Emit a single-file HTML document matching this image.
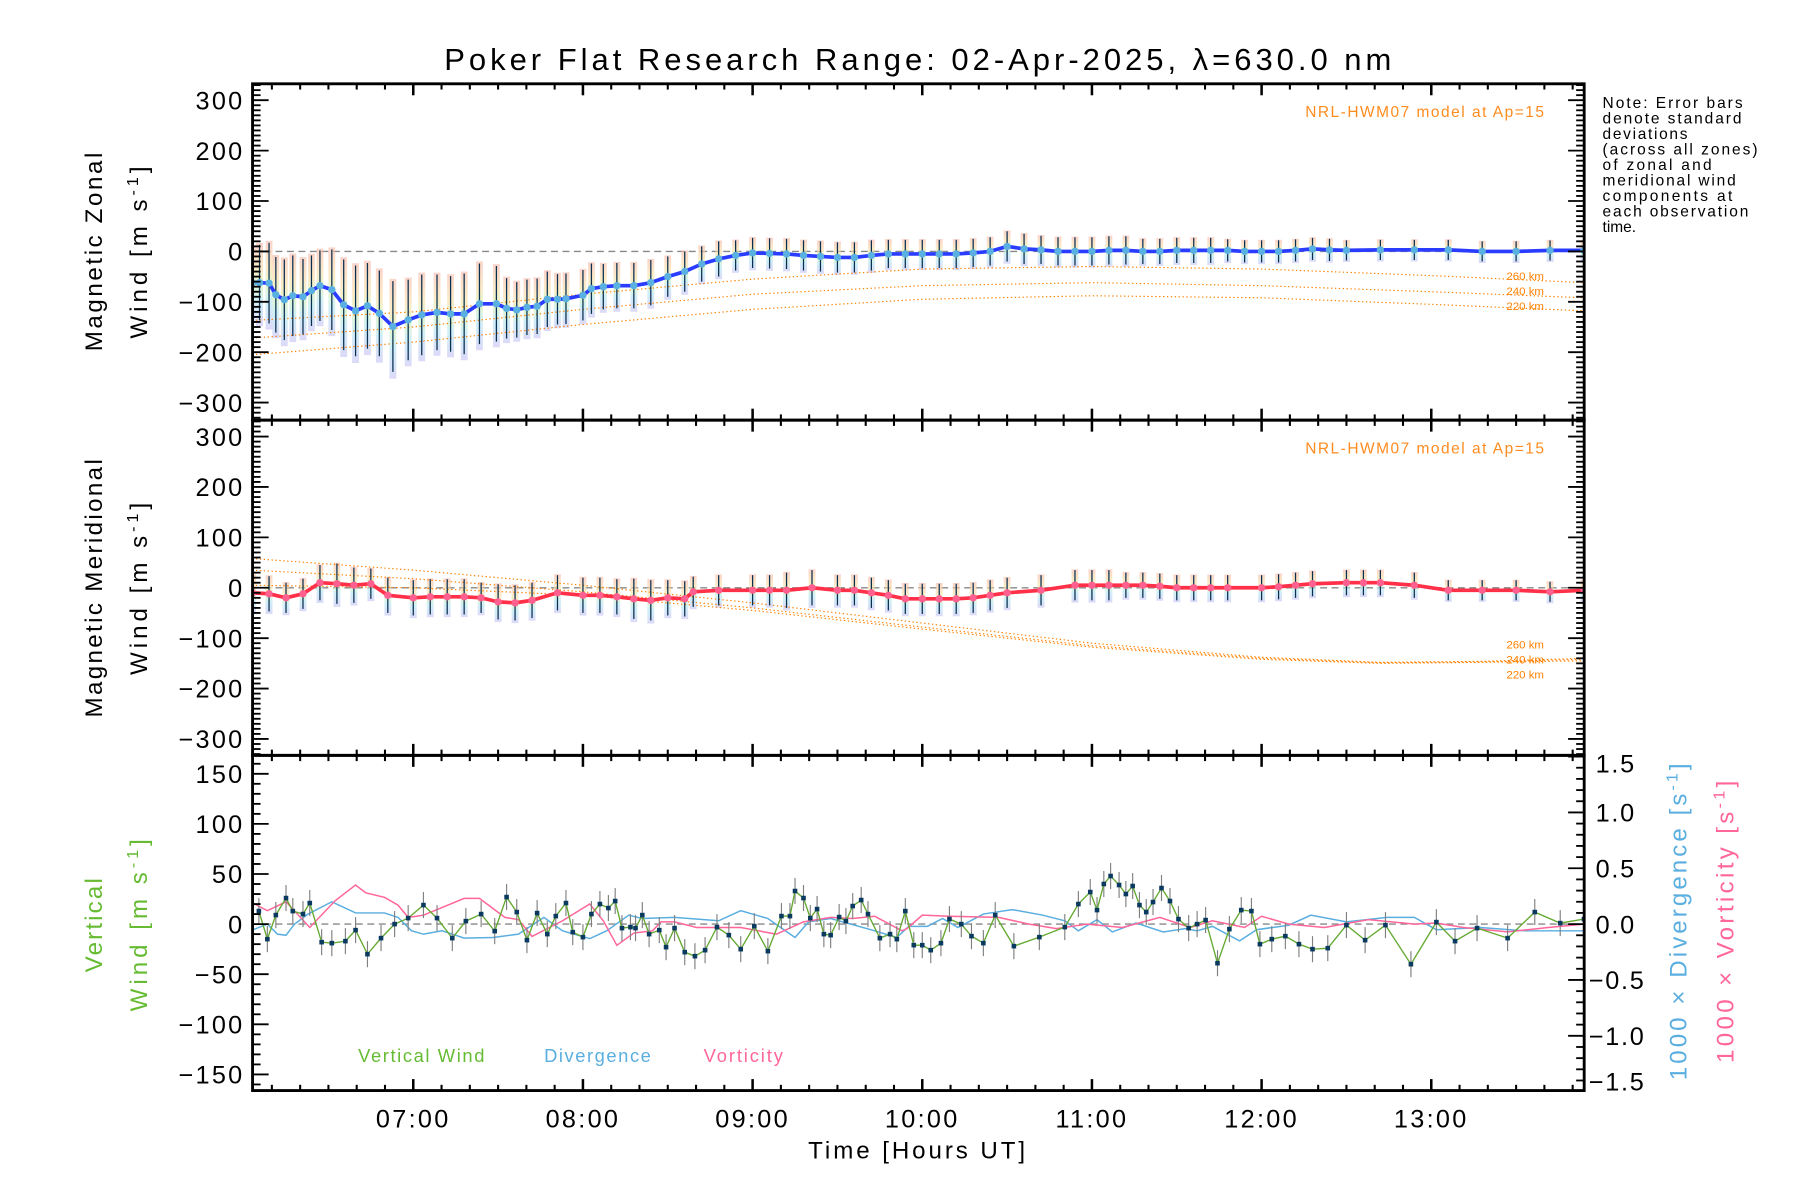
<!DOCTYPE html>
<html><head><meta charset="utf-8"><style>
html,body{margin:0;padding:0;background:#fff}
svg{display:block}
text{font-family:"Liberation Sans",sans-serif}
</style></head><body>
<svg id="chart" width="1800" height="1200" viewBox="0 0 1568 1045.33" preserveAspectRatio="none" xmlns="http://www.w3.org/2000/svg">
<defs>
<linearGradient id="strip" x1="0" y1="0" x2="0" y2="1">
<stop offset="0" stop-color="#f8b8a8"/><stop offset="0.3" stop-color="#f8dca0"/><stop offset="0.5" stop-color="#d0f0b0"/><stop offset="0.7" stop-color="#b0e4f4"/><stop offset="1" stop-color="#c4c0f4"/>
</linearGradient>
<clipPath id="c1"><rect x="220" y="73" width="1160" height="293"/></clipPath>
<clipPath id="c2"><rect x="220" y="366" width="1160" height="292"/></clipPath>
<clipPath id="c3"><rect x="220" y="658" width="1160" height="292"/></clipPath>
</defs>
<text x="387" y="61" font-size="27" textLength="825" lengthAdjust="spacing">Poker Flat Research Range: 02-Apr-2025, λ=630.0 nm</text>
<g id="g1" clip-path="url(#c1)"></g>
<g id="g2" clip-path="url(#c2)"></g>
<g id="g3" clip-path="url(#c3)"></g>
<g id="axes"></g>
<g font-size="13.5">
<text x="1396" y="94" textLength="122" lengthAdjust="spacing">Note: Error bars</text><text x="1396" y="107.5" textLength="121" lengthAdjust="spacing">denote standard</text><text x="1396" y="121" textLength="74" lengthAdjust="spacing">deviations</text><text x="1396" y="134.5" textLength="135" lengthAdjust="spacing">(across all zones)</text><text x="1396" y="148" textLength="95" lengthAdjust="spacing">of zonal and</text><text x="1396" y="161.5" textLength="116" lengthAdjust="spacing">meridional wind</text><text x="1396" y="175" textLength="113" lengthAdjust="spacing">components at</text><text x="1396" y="188.5" textLength="127" lengthAdjust="spacing">each observation</text><text x="1396" y="202">time.</text>
</g>
<text x="1137" y="102" font-size="13.5" fill="#ff8c20" textLength="208" lengthAdjust="spacing">NRL-HWM07 model at Ap=15</text>
<text x="1137" y="395" font-size="13.5" fill="#ff8c20" textLength="208" lengthAdjust="spacing">NRL-HWM07 model at Ap=15</text>
<g font-size="10" fill="#ff8000" text-anchor="end">
<text x="1345" y="244">260 km</text><text x="1345" y="257">240 km</text><text x="1345" y="270">220 km</text>
<text x="1345" y="565">260 km</text><text x="1345" y="578">240 km</text><text x="1345" y="591">220 km</text>
</g>
<g font-size="21">
<text transform="translate(89,306) rotate(-90)" textLength="173" lengthAdjust="spacing">Magnetic Zonal</text>
<text transform="translate(128,295) rotate(-90)" textLength="150" lengthAdjust="spacing">Wind [m s<tspan baseline-shift="super" font-size="14">-1</tspan>]</text>
<text transform="translate(89,625) rotate(-90)" textLength="225" lengthAdjust="spacing">Magnetic Meridional</text>
<text transform="translate(128,588) rotate(-90)" textLength="150" lengthAdjust="spacing">Wind [m s<tspan baseline-shift="super" font-size="14">-1</tspan>]</text>
<text fill="#66bb33" transform="translate(89,847) rotate(-90)" textLength="82" lengthAdjust="spacing">Vertical</text>
<text fill="#66bb33" transform="translate(128,881) rotate(-90)" textLength="150" lengthAdjust="spacing">Wind [m s<tspan baseline-shift="super" font-size="14">-1</tspan>]</text>
<text fill="#5aaee0" transform="translate(1469,941) rotate(-90)" textLength="276" lengthAdjust="spacing">1000 × Divergence [s<tspan baseline-shift="super" font-size="14">-1</tspan>]</text>
<text fill="#ff6699" transform="translate(1510,926) rotate(-90)" textLength="246" lengthAdjust="spacing">1000 × Vorticity [s<tspan baseline-shift="super" font-size="14">-1</tspan>]</text>
<text x="704" y="1009" textLength="189" lengthAdjust="spacing">Time [Hours UT]</text>
</g>
<g font-size="16">
<text x="312" y="925" fill="#66bb33" textLength="110" lengthAdjust="spacing">Vertical Wind</text>
<text x="474" y="925" fill="#5aaee0" textLength="93" lengthAdjust="spacing">Divergence</text>
<text x="613" y="925" fill="#ff6699" textLength="69" lengthAdjust="spacing">Vorticity</text>
</g>
</svg>
<script>
const hourTicks=[7,8,9,10,11,12,13];
const hourLabels=["07:00","08:00","09:00","10:00","11:00","12:00","13:00"];
const windTicks=[300,200,100,0,-100,-200,-300];
const vertTicks=[150,100,50,0,-50,-100,-150];
const rightTicks=[1.5,1.0,0.5,0.0,-0.5,-1.0,-1.5];
const zonalT=[6.053,6.094,6.15,6.19,6.24,6.29,6.35,6.40,6.45,6.52,6.59,6.66,6.73,6.80,6.88,6.97,7.05,7.14,7.22,7.30,7.39,7.49,7.55,7.61,7.67,7.73,7.79,7.85,7.90,8.0,8.05,8.12,8.2,8.3,8.4,8.5,8.6,8.7,8.8,8.9,9.0,9.1,9.2,9.3,9.4,9.5,9.6,9.7,9.8,9.9,10.0,10.1,10.2,10.3,10.4,10.5,10.6,10.7,10.8,10.9,11.0,11.1,11.2,11.3,11.4,11.5,11.6,11.7,11.8,11.9,12.0,12.1,12.2,12.3,12.4,12.5,12.7,12.9,13.1,13.3,13.5,13.7,13.9];
const zonalV=[-62,-62,-63,-86,-96,-88,-90,-78,-68,-76,-106,-118,-108,-123,-149,-136,-126,-121,-124,-124,-104,-104,-113,-116,-111,-109,-95,-95,-94,-87,-74,-70,-68,-68,-62,-50,-40,-25,-15,-8,-3,-4,-5,-8,-10,-12,-12,-8,-5,-5,-5,-5,-5,-3,0,10,5,3,0,0,0,2,2,0,0,2,2,2,2,0,0,0,2,5,3,2,3,3,3,0,0,2,2];
const zonalSd=[70,75,80,75,80,80,75,70,70,80,90,90,85,85,90,80,80,75,75,80,80,75,60,55,55,55,55,50,50,50,50,45,45,45,45,40,40,35,35,30,30,30,30,30,30,30,30,30,28,28,28,28,28,28,28,30,30,28,28,28,28,28,28,25,25,25,25,25,22,22,22,22,22,22,22,20,20,20,20,20,20,20,20];
const meridT=[6.053,6.15,6.25,6.35,6.45,6.55,6.65,6.75,6.85,7.0,7.1,7.2,7.3,7.4,7.5,7.6,7.7,7.85,8.0,8.1,8.2,8.3,8.4,8.5,8.6,8.65,8.8,9.0,9.1,9.2,9.35,9.5,9.6,9.7,9.8,9.9,10.0,10.1,10.2,10.3,10.4,10.5,10.7,10.9,11.0,11.1,11.2,11.3,11.4,11.5,11.6,11.7,11.8,12.0,12.1,12.2,12.3,12.5,12.6,12.7,12.9,13.1,13.3,13.5,13.7,13.9];
const meridV=[-10,-12,-20,-12,10,8,5,8,-15,-20,-18,-18,-18,-20,-28,-30,-25,-10,-15,-15,-18,-22,-25,-20,-22,-8,-5,-5,-5,-5,0,-5,-5,-10,-15,-22,-22,-22,-22,-20,-15,-10,-5,5,5,5,5,5,3,0,0,0,0,0,2,5,8,10,10,10,5,-5,-5,-5,-8,-5];
const meridSd=[35,35,30,30,35,40,35,30,35,35,35,35,35,30,35,35,35,35,35,35,35,40,40,35,35,30,30,30,30,35,35,30,30,30,30,30,30,30,30,30,30,30,30,30,30,30,25,25,25,25,25,25,25,25,25,25,25,25,25,25,25,20,20,20,20,20];
const modelT1=[6.05,7,8,9,10,11,12,13,13.9];
const zonal260=[-137,-120,-85,-55,-35,-30,-35,-48,-62];
const zonal240=[-172,-150,-115,-85,-68,-62,-68,-80,-92];
const zonal220=[-205,-180,-145,-115,-95,-88,-92,-105,-118];
const modelT2=[6.05,7,8,9,10,11,12,12.7,13.3,13.9];
const merid260=[58,35,5,-30,-70,-110,-138,-148,-146,-140];
const merid240=[35,18,-8,-40,-78,-115,-140,-149,-147,-142];
const merid220=[5,0,-15,-45,-82,-118,-142,-150,-148,-145];
const vertT=[6.09,6.14,6.19,6.25,6.29,6.35,6.39,6.46,6.52,6.60,6.66,6.73,6.81,6.89,6.97,7.06,7.14,7.23,7.31,7.40,7.48,7.55,7.61,7.67,7.73,7.79,7.84,7.90,7.94,8.00,8.05,8.10,8.15,8.19,8.23,8.28,8.31,8.35,8.39,8.45,8.49,8.54,8.60,8.66,8.72,8.79,8.86,8.93,9.01,9.09,9.17,9.22,9.25,9.30,9.34,9.38,9.42,9.46,9.51,9.55,9.59,9.64,9.68,9.75,9.81,9.85,9.90,9.95,10.0,10.05,10.11,10.16,10.23,10.29,10.36,10.43,10.54,10.69,10.84,10.92,10.99,11.03,11.07,11.11,11.16,11.20,11.24,11.28,11.32,11.36,11.41,11.46,11.51,11.57,11.62,11.67,11.74,11.81,11.88,11.94,11.99,12.06,12.14,12.22,12.30,12.39,12.50,12.61,12.73,12.88,13.03,13.14,13.27,13.45,13.61,13.76,13.90];
const vertV=[13,-15,9,26,13,10,21,-18,-19,-17,-6,-30,-14,0,6,19,6,-14,3,10,-7,27,12,-16,11,-10,8,21,-8,-13,10,20,16,23,-4,-3,-4,9,-10,-6,-23,-4,-28,-32,-26,-3,-11,-25,-2,-27,8,8,33,26,6,15,-10,-11,7,3,18,24,10,-14,-10,-15,13,-21,-21,-26,-19,5,0,-12,-19,9,-22,-13,-3,20,32,14,40,48,39,30,38,19,12,22,36,23,5,-4,0,4,-39,-5,14,13,-20,-15,-12,-20,-25,-24,-1,-16,-1,-40,2,-17,-4,-14,12,1,5];
const vertErr=13;
const divT=[6.04,6.14,6.20,6.25,6.30,6.38,6.52,6.66,6.83,6.91,6.99,7.06,7.17,7.30,7.47,7.62,7.77,7.88,8.04,8.14,8.27,8.35,8.54,8.80,8.93,9.09,9.25,9.33,9.46,9.72,9.85,9.92,10.03,10.12,10.21,10.36,10.53,10.71,10.84,10.92,11.03,11.12,11.26,11.42,11.55,11.62,11.71,11.87,11.97,12.16,12.29,12.50,12.74,12.90,13.03,13.29,13.55,13.90];
const divV=[-0.06,0,-0.09,-0.1,0,0.09,0.2,0.1,0.1,0.06,-0.06,-0.09,-0.06,-0.125,-0.12,-0.09,0.06,-0.06,-0.13,-0.06,0.08,0.05,0.06,0.03,0.12,0.05,-0.12,0.02,0.05,-0.06,-0.12,-0.02,-0.02,0.05,-0.03,0.09,0.13,0.08,0.03,-0.06,0.04,-0.07,0.01,-0.07,-0.04,-0.06,-0.02,-0.15,-0.05,-0.01,0.08,0.02,0.06,0.06,-0.05,-0.03,-0.06,-0.06];
const vortT=[6.04,6.14,6.25,6.39,6.54,6.66,6.72,6.83,6.91,6.97,7.06,7.30,7.39,7.54,7.62,7.70,7.88,8.04,8.12,8.20,8.30,8.41,8.46,8.54,8.67,8.93,9.14,9.30,9.46,9.59,9.72,9.88,9.91,10.0,10.16,10.45,10.63,10.79,10.97,11.18,11.40,11.58,11.71,11.90,12.0,12.16,12.37,12.63,12.90,13.03,13.19,13.45,13.69,13.90];
const vortV=[0.2,0.12,0.2,-0.03,0.21,0.35,0.28,0.24,0.17,0.06,0.08,0.23,0.23,0.06,0.04,-0.11,0.03,0.18,0.03,-0.19,-0.08,-0.06,0.02,0.02,-0.03,-0.03,-0.09,0.02,0.06,0.05,0.07,-0.06,-0.04,0.08,0.07,0.06,0,-0.04,0,-0.03,0.06,-0.03,0.03,-0.03,0.07,0,-0.03,0.04,0,0.01,-0.03,-0.07,-0.03,0];

const NS="http://www.w3.org/2000/svg";
const X=h=>360+(h-7)*147.8;
const Y1=v=>219-v*0.439;
const Y2=v=>512-v*0.439;
const Y3=v=>805-v*0.873;
const YR=v=>805-v*97.3;
function mk(tag,attrs,parent){const e=document.createElementNS(NS,tag);for(const k in attrs)e.setAttribute(k,attrs[k]);parent.appendChild(e);return e;}
const g1=document.getElementById('g1'),g2=document.getElementById('g2'),g3=document.getElementById('g3'),ax=document.getElementById('axes');
function poly(T,V,Y,attrs,parent,name){const p=mk('polyline',Object.assign({points:T.map((t,i)=>X(t).toFixed(2)+','+Y(V[i]).toFixed(2)).join(' '),fill:'none'},attrs),parent);

return p;}
function zero(Y,parent,name){const l=mk('line',{x1:220,x2:1380,y1:Y(0),y2:Y(0),stroke:'#888','stroke-width':1.2,'stroke-dasharray':'6 4'},parent);

}
function windPanel(g,T,V,S,Y,col,mcol,mT,m1,m2,m3,pre){
  zero(Y,g,pre+'-zero-line');
  T.forEach((t,i)=>{const x=X(t);
    const r=mk('rect',{x:x-3,y:Y(V[i]+S[i]*1.05),width:6,height:Y(V[i]-S[i]*1.15)-Y(V[i]+S[i]*1.05),fill:'url(#strip)',opacity:0.6},g);
    
    });
  [m1,m2,m3].forEach((m,k)=>poly(mT,m,Y,{stroke:'#ff8000','stroke-width':1,'stroke-dasharray':'1.2 2.2'},g,pre+'-model-'+['260','240','220'][k]));
  T.forEach((t,i)=>{const x=X(t);
    const l=mk('line',{x1:x,x2:x,y1:Y(V[i]+S[i]),y2:Y(V[i]-S[i]),stroke:'#0a3050','stroke-width':1.1},g);
    
    });
  poly(T,V,Y,{stroke:col,'stroke-width':3.2,'stroke-linejoin':'round'},g,pre+'-mean-line');
  T.forEach((t,i)=>{const c=mk('circle',{cx:X(t),cy:Y(V[i]),r:3.2,fill:mcol},g);
    
    });
}
windPanel(g1,zonalT,zonalV,zonalSd,Y1,'#2a3cff','#5ab0e0',modelT1,zonal260,zonal240,zonal220,'zonal');
windPanel(g2,meridT,meridV,meridSd,Y2,'#ff3048','#ff6090',modelT2,merid260,merid240,merid220,'merid');
zero(Y3,g3,'vertical-zero-line');
poly(divT,divV,YR,{stroke:'#5aaee0','stroke-width':1.3},g3,'divergence-line');
poly(vortT,vortV,YR,{stroke:'#ff6699','stroke-width':1.3},g3,'vorticity-line');
vertT.forEach((t,i)=>{const l=mk('line',{x1:X(t),x2:X(t),y1:Y3(vertV[i]+vertErr),y2:Y3(vertV[i]-vertErr),stroke:'#808080','stroke-width':1},g3);
  
  });
poly(vertT,vertV,Y3,{stroke:'#66aa33','stroke-width':1.2},g3,'vertical-wind-line');
vertT.forEach((t,i)=>{const r=mk('rect',{x:X(t)-2,y:Y3(vertV[i])-2,width:4,height:4,fill:'#0a3a60'},g3);
  
  });
const panels=[[73,366],[366,658],[658,950]];
panels.forEach(([t,b],pi)=>{
  const f=mk('rect',{x:220,y:t,width:1160,height:b-t,fill:'none',stroke:'#000','stroke-width':2.5},ax);
  
  
  for(let m=6*6+1;m<=13*6+5;m++){const h=m/6;if(X(h)<221||X(h)>1379)continue;const maj=m%6==0;const L=maj?10:5;
    [[t,t+L],[b,b-L]].forEach(([a,c])=>{const l=mk('line',{x1:X(h),x2:X(h),y1:a,y2:c,stroke:'#000','stroke-width':maj?2.2:1.8},ax);
      
      });}
});
function yTicks(Y,lo,hi,minStep,majStep,t,b,left,right,labels,fmt,name){
  for(let v=lo;v<=hi+1e-9;v+=minStep){const y=Y(v);if(y<t+1||y>b-1)continue;const maj=Math.abs(v/majStep-Math.round(v/majStep))<1e-6;const L=maj?14:7;
    if(left){const l=mk('line',{x1:220,x2:220+L,y1:y,y2:y,stroke:'#000','stroke-width':1.6},ax);
      
      }
    if(right){const l=mk('line',{x1:1380,x2:1380-L,y1:y,y2:y,stroke:'#000','stroke-width':1.6},ax);
      
      }}
  labels.forEach(v=>{const tx=mk('text',{x:213,y:Y(v)+8,'font-size':22,'text-anchor':'end','letter-spacing':2},ax);tx.textContent=fmt(v);
    
    });
}
const fmtI=v=>(v<0?'\u2212':'')+Math.abs(v);
yTicks(Y1,-330,330,10,100,73,366,1,1,windTicks,fmtI,'zonal-y');
yTicks(Y2,-330,330,10,100,366,658,1,1,windTicks,fmtI,'merid-y');
yTicks(Y3,-160,160,10,50,658,950,1,0,vertTicks,fmtI,'vert-y');
yTicks(YR,-1.5,1.5,0.1,0.5,657,951,0,1,[],fmtI,'right-y');
rightTicks.forEach(v=>{const tx=mk('text',{x:v<0?1384:1390,y:Math.max(673,Math.min(950,YR(v)+8)),'font-size':22,'letter-spacing':1.5},ax);tx.textContent=(v<0?'\u2212':'')+Math.abs(v).toFixed(1);
  
  });
hourTicks.forEach((h,i)=>{const tx=mk('text',{x:X(h),y:982,'font-size':22,'text-anchor':'middle','letter-spacing':2},ax);tx.textContent=hourLabels[i];
  
  });
</script>
</body></html>
